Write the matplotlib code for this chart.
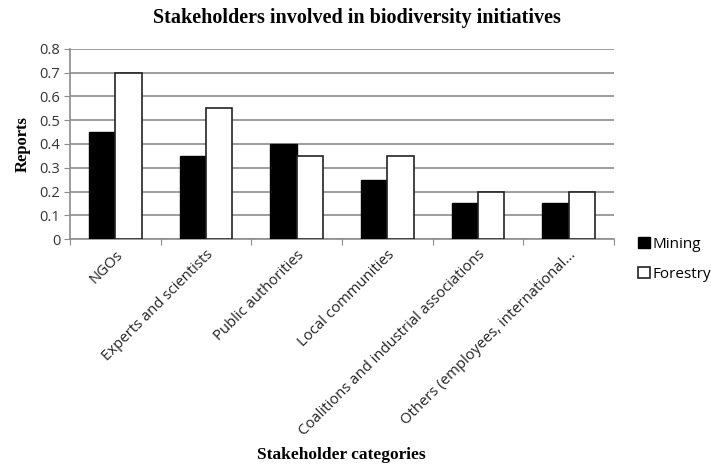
import matplotlib
matplotlib.use("Agg")
import matplotlib.pyplot as plt
import numpy as np

# Data
categories = ["NGOs", "Experts and scientists", "Public authorities",
              "Local communities", "Coalitions and industrial associations",
              "Others (employees, international..."]
mining = [0.45, 0.35, 0.40, 0.25, 0.15, 0.15]
forestry = [0.70, 0.55, 0.35, 0.35, 0.20, 0.20]
yticks = [0, 0.1, 0.2, 0.3, 0.4, 0.5, 0.6, 0.7, 0.8]

fig = plt.figure(figsize=(7.11, 4.66), dpi=100)
ax = fig.add_axes([0.0985, 0.487, 0.765, 0.408])

x = np.arange(len(categories))
w = 0.29
ax.bar(x - w / 2, mining, w, color="black", edgecolor="black", linewidth=1, label="Mining", zorder=3)
ax.bar(x + w / 2, forestry, w, color="white", edgecolor="#222222", linewidth=1.2, label="Forestry", zorder=3)

ax.set_xlim(-0.5, len(categories) - 0.5)
ax.set_ylim(0, 0.8)
ax.set_yticks(yticks)
ax.set_yticklabels([f"{t:g}" for t in yticks], fontfamily="Open Sans", fontsize=10.5, color="#333333")
ax.yaxis.grid(True, color="#8c8c8c", linewidth=1.2, zorder=0)

# category ticks at boundaries, labels at centres
ax.set_xticks(np.arange(len(categories) + 1) - 0.5)
ax.set_xticklabels([])
ax.set_xticks(x, minor=True)
ax.set_xticklabels(categories, minor=True, rotation=45, ha="right", va="top",
                   rotation_mode="anchor", fontfamily="Open Sans", fontsize=10.7, color="#222222")
ax.tick_params(axis="x", which="minor", length=0, pad=6)
ax.tick_params(axis="x", which="major", length=4, color="#8c8c8c", direction="out")
ax.tick_params(axis="y", length=4, color="#8c8c8c", pad=3)

for s in ["top", "right"]:
    ax.spines[s].set_visible(False)
for s in ["left", "bottom"]:
    ax.spines[s].set_color("#8c8c8c")
    ax.spines[s].set_linewidth(1.2)

ax.set_ylabel("Reports", fontfamily="Liberation Serif", fontweight="bold", fontsize=12, labelpad=6)
fig.text(0.48, 0.006, "Stakeholder categories", ha="center", va="bottom",
         fontfamily="Liberation Serif", fontweight="bold", fontsize=12.5)
fig.text(0.502, 0.962, "Stakeholders involved in biodiversity initiatives", ha="center", va="center",
         fontfamily="Liberation Serif", fontweight="bold", fontsize=14.5)

fig.legend(loc="upper left", bbox_to_anchor=(0.898, 0.491), frameon=False,
           borderpad=0, borderaxespad=0,
           prop={"family": "Open Sans", "size": 11}, handlelength=0.75, handleheight=0.75,
           handletextpad=0.2, labelspacing=0.95)

fig.savefig("out.png", dpi=100)
